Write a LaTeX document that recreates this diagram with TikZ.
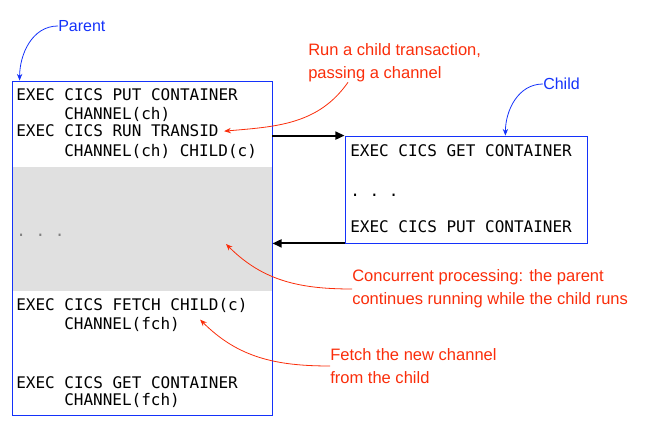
\documentclass[tikz,border=0pt]{standalone}
\usepackage{fontspec}
\setmainfont{Liberation Sans}
\setmonofont{DejaVu Sans Mono}
\usetikzlibrary{arrows.meta}

\definecolor{boxblue}{RGB}{20,50,250}
\definecolor{notered}{RGB}{250,45,10}
\definecolor{bandgray}{RGB}{224,224,224}

\tikzset{
  code/.style={anchor=base west,inner sep=0pt,font=\ttfamily\fontsize{12}{14}\selectfont},
  prog/.style={draw=boxblue,line width=0.6pt,inner sep=0pt},
  note/.style={anchor=west,inner sep=0pt,align=left,text=notered,font=\fontsize{12.4}{17}\selectfont},
  tag/.style={anchor=west,inner sep=0pt,text=boxblue,font=\fontsize{12}{14}\selectfont},
  call/.style={line width=1.6pt,-{Triangle[length=7pt,width=6pt]}},
  hint/.style={notered,line width=0.6pt,-{Stealth[length=5pt,width=4pt]}},
  hintb/.style={boxblue,line width=0.6pt,-{Stealth[length=5pt,width=4pt]}}
}

\begin{document}
\begin{tikzpicture}[x=0.75pt,y=0.75pt]
  \useasboundingbox (0,0) rectangle (646,-427);

  % parent program
  \fill[bandgray] (12,-167) rectangle (272,-291);
  \node[prog,minimum width=195pt,minimum height=250.5pt] (parent) at (142,-248) {};
  \node[code] (p1) at (16,-101) {EXEC CICS PUT CONTAINER};
  \node[code] (p2) at (64,-120) {CHANNEL(ch)};
  \node[code] (run) at (16,-137) {EXEC CICS RUN TRANSID};
  \node[code] (p4) at (64,-157) {CHANNEL(ch) CHILD(c)};
  \node[code,text=gray] (pdots) at (16,-237) {. . .};
  \node[code] (fetch) at (16,-311) {EXEC CICS FETCH CHILD(c)};
  \node[code] (fch) at (64,-330) {CHANNEL(fch)};
  \node[code] (p8) at (16,-388) {EXEC CICS GET CONTAINER};
  \node[code] (p9) at (64,-406) {CHANNEL(fch)};

  % child program
  \node[prog,minimum width=181.5pt,minimum height=80.25pt] (child) at (466,-189.5) {};
  \node[code] (c1) at (350,-157) {EXEC CICS GET CONTAINER};
  \node[code] (cdots) at (350,-197) {. . .};
  \node[code] (c3) at (350,-233) {EXEC CICS PUT CONTAINER};

  \draw[call] (parent.east |- child.north west) -- (child.north west);
  \draw[call] (child.south west) -- (parent.east |- child.south west);

  % labels
  \node[tag] (ptag) at (58,-26) {Parent};
  \node[tag] (ctag) at (543,-84) {Child};
  \draw[hintb] (ptag.west) to[out=180,in=90] ([xshift=6pt]parent.north west);
  \draw[hintb] (ctag.west) to[out=180,in=90] ([xshift=-61.5pt]child.north east);

  % notes
  \node[note] (runnote) at (308,-63) {Run a child transaction,\\passing a channel};
  \node[note] (concnote) at (352,-289) {Concurrent processing: the parent\\continues running while the child runs};
  \node[note] (fetchnote) at (330,-366) {Fetch the new channel\\from the child};
  \coordinate (band) at (226,-244);
  \draw[hint] ([xshift=30pt]runnote.south west) to[out=-125,in=5] ([xshift=4pt]run.east);
  \draw[hint] (concnote.west) to[out=180,in=-45] (band);
  \draw[hint] (fetchnote.west) to[out=180,in=-45] ([xshift=15pt,yshift=4pt]fch.east);
\end{tikzpicture}
\end{document}
